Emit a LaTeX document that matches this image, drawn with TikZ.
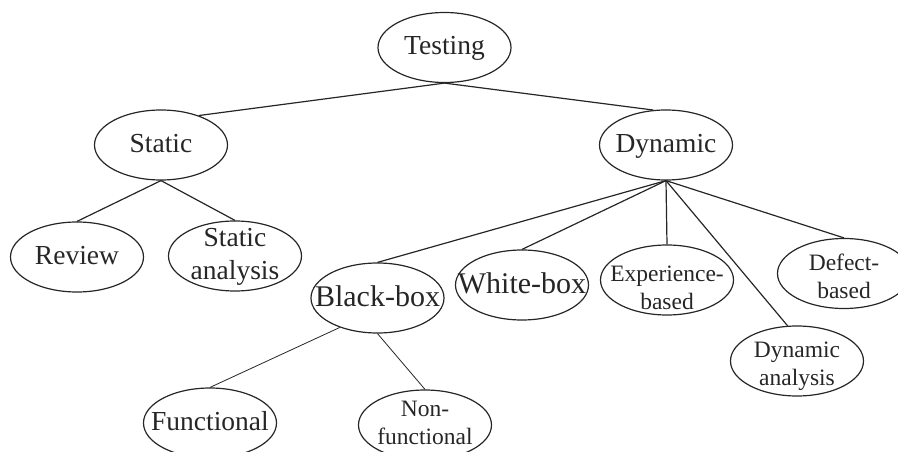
\documentclass[tikz,border=0pt]{standalone}
\usepackage{fontspec}
\setmainfont{Liberation Serif}
\usetikzlibrary{shapes.geometric}
\newcommand{\ctx}[2][0pt]{\makebox[0pt]{\raisebox{\dimexpr-0.25em-#1\relax}[0pt][0pt]{\begin{tabular}{@{}c@{}}#2\end{tabular}}}}
\tikzset{
  ell/.style={ellipse, draw=black!85, line width=1.2pt, minimum width=133pt, minimum height=70pt, inner sep=0pt, text=black!85},
  fnorm/.style={font=\fontsize{27.5}{33}\selectfont},
  fbig/.style={font=\fontsize{30}{36}\selectfont},
  fsmall/.style={font=\fontsize{23.5}{28}\selectfont},
  edge/.style={draw=black!85, line width=1.2pt},
  thinedge/.style={draw=black!85, line width=0.8pt}
}
\begin{document}
\begin{tikzpicture}[x=1pt,y=-1pt]
\useasboundingbox (0,0) rectangle (898,452);
\node[ell,fnorm] (T) at (444.5,47.5) {\ctx{Testing}};
\node[ell,fnorm] (S) at (161,145) {\ctx{Static}};
\node[ell,fnorm] (D) at (666,145) {\ctx{Dynamic}};
\node[ell,fnorm] (R) at (77,257) {\ctx{Review}};
\node[ell,fnorm] (SA) at (235,256) {\ctx{Static\\analysis}};
\node[ell,fbig] (BB) at (377.5,298) {\ctx{Black-box}};
\node[ell,fbig] (WB) at (522,285) {\ctx{White-box}};
\node[ell,fsmall] (EB) at (667,280) {\ctx[10pt]{Experience-\\based}};
\node[ell,fsmall] (DB) at (844,273.5) {\ctx[6pt]{Defect-\\based}};
\node[ell,fsmall] (DA) at (797,361) {\ctx[5pt]{Dynamic\\analysis}};
\node[ell,fnorm] (F) at (210,423) {\ctx{Functional}};
\node[ell,fsmall] (NF) at (425,425) {\ctx{Non-\\functional}};
\draw[edge] (T.south) -- (S.38);
\draw[edge] (T.south) -- (D.110);
\draw[edge] (S.south) -- (R.north);
\draw[edge] (S.south) -- (SA.north);
\draw[edge] (D.south) -- (BB.north);
\draw[edge] (D.south) -- (WB.north);
\draw[edge] (D.south) -- (EB.north);
\draw[edge] (D.south) -- (DA.105);
\draw[edge] (D.south) -- (DB.north);
\draw[thinedge] (BB.218) -- (F.north);
\draw[thinedge] (BB.south) -- (NF.north);
\end{tikzpicture}
\end{document}
